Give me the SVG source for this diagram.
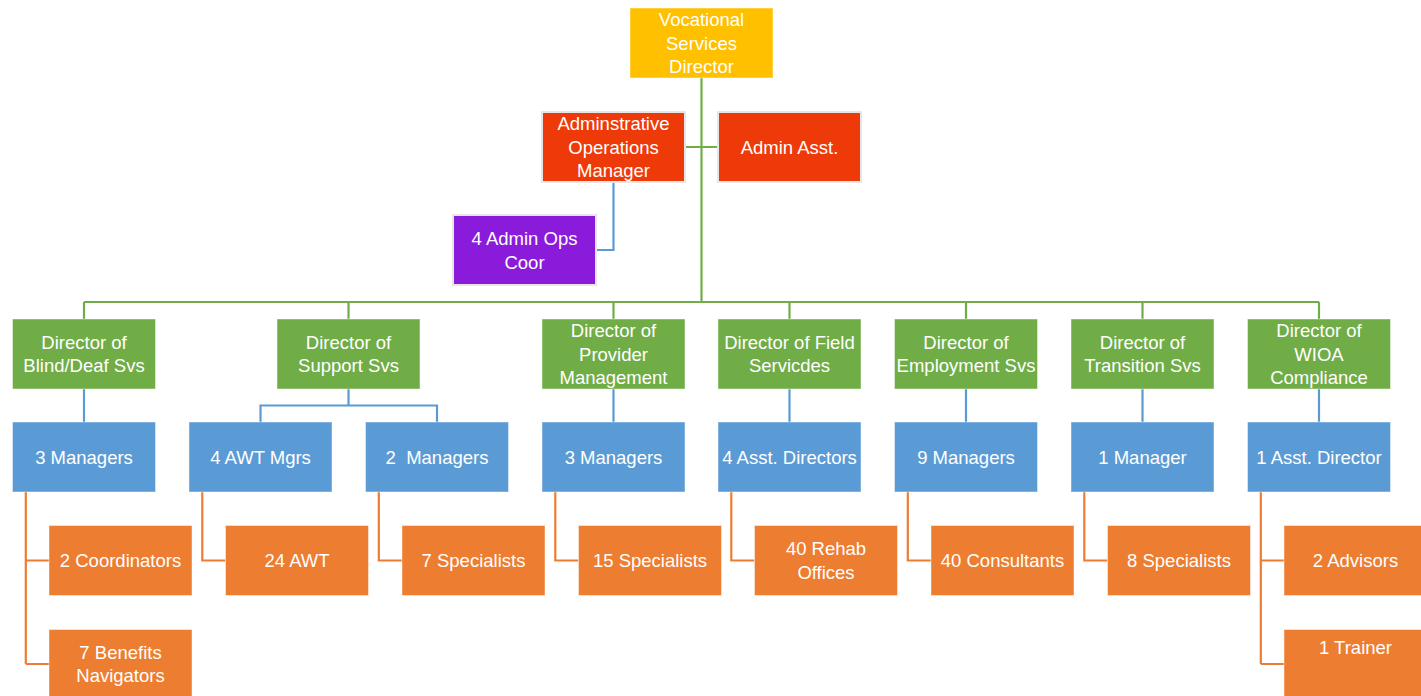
<svg xmlns="http://www.w3.org/2000/svg" width="1421" height="696" viewBox="0 0 1421 696">
<style>
  text { font-family: "Liberation Sans", Arial, sans-serif; font-size: 18.5px; fill: #ffffff; text-anchor: middle; }
  .box { stroke: #ffffff; stroke-opacity: 0.45; stroke-width: 1; }
  .gold { fill: #FFC000; }
  .red { fill: #EE3A08; stroke: #e6e6e6; stroke-opacity: 1; stroke-width: 2; }
  .purple { fill: #8B1BDB; stroke: #e6e6e6; stroke-opacity: 1; stroke-width: 2; }
  .green { fill: #70AD47; }
  .blue { fill: #5B9BD5; }
  .orange { fill: #ED7D31; }
  .cg { fill: none; stroke: #70AD47; stroke-width: 2.2; }
  .cb { fill: none; stroke: #5B9BD5; stroke-width: 2.2; }
  .co { fill: none; stroke: #ED7D31; stroke-width: 2.2; }
</style>
<rect width="1421" height="696" fill="#ffffff"/>

<g id="connectors">
  <path class="cg" d="M701.5 78 V302 M84 302 H1319 M84 302 V319 M348.5 302 V319 M613.5 302 V319 M789.5 302 V319 M966 302 V319 M1142.5 302 V319 M1319 302 V319 M686 147 H717"/>
  <path class="cb" d="M613.5 183 V250 H597"/>
  <path class="cb" d="M84 389 V422 M613.5 389 V422 M789.5 389 V422 M966 389 V422 M1142.5 389 V422 M1319 389 V422 M348.5 389 V405.5 M260.5 422 V405.5 H437 V422"/>
  <path class="co" d="M25.8 492 V664 M25.8 560.5 H49 M25.8 664 H49"/>
  <path class="co" d="M202.3 492 V560.5 H225.5"/>
  <path class="co" d="M378.8 492 V560.5 H402"/>
  <path class="co" d="M555.3 492 V560.5 H578.5"/>
  <path class="co" d="M731.3 492 V560.5 H754.5"/>
  <path class="co" d="M907.8 492 V560.5 H931"/>
  <path class="co" d="M1084.3 492 V560.5 H1107.5"/>
  <path class="co" d="M1260.8 492 V664 M1260.8 560.5 H1284 M1260.8 664 H1284"/>
</g>

<g id="vocational-services-director">
  <rect class="box gold" x="630" y="8" width="143" height="70"/>
  <text x="701.5" y="26">Vocational</text>
  <text x="701.5" y="49.5">Services</text>
  <text x="701.5" y="73">Director</text>
</g>
<g id="admin-ops-manager">
  <rect class="box red" x="542" y="112" width="143" height="70"/>
  <text x="613.5" y="130">Adminstrative</text>
  <text x="613.5" y="153.5">Operations</text>
  <text x="613.5" y="177">Manager</text>
</g>
<g id="admin-asst">
  <rect class="box red" x="718" y="112" width="143" height="70"/>
  <text x="789.5" y="153.5">Admin Asst.</text>
</g>
<g id="admin-ops-coor">
  <rect class="box purple" x="453" y="215" width="143" height="70"/>
  <text x="524.5" y="245">4 Admin Ops</text>
  <text x="524.5" y="268.5">Coor</text>
</g>

<g id="dir-blind-deaf">
  <rect class="box green" x="12.5" y="319" width="143" height="70"/>
  <text x="84" y="348.8">Director of</text>
  <text x="84" y="372.3">Blind/Deaf Svs</text>
</g>
<g id="dir-support">
  <rect class="box green" x="277" y="319" width="143" height="70"/>
  <text x="348.5" y="348.8">Director of</text>
  <text x="348.5" y="372.3">Support Svs</text>
</g>
<g id="dir-provider">
  <rect class="box green" x="542" y="319" width="143" height="70"/>
  <text x="613.5" y="337">Director of</text>
  <text x="613.5" y="360.5">Provider</text>
  <text x="613.5" y="384">Management</text>
</g>
<g id="dir-field">
  <rect class="box green" x="718" y="319" width="143" height="70"/>
  <text x="789.5" y="348.8">Director of Field</text>
  <text x="789.5" y="372.3">Servicdes</text>
</g>
<g id="dir-employment">
  <rect class="box green" x="894.5" y="319" width="143" height="70"/>
  <text x="966" y="348.8">Director of</text>
  <text x="966" y="372.3">Employment Svs</text>
</g>
<g id="dir-transition">
  <rect class="box green" x="1071" y="319" width="143" height="70"/>
  <text x="1142.5" y="348.8">Director of</text>
  <text x="1142.5" y="372.3">Transition Svs</text>
</g>
<g id="dir-wioa">
  <rect class="box green" x="1247.5" y="319" width="143" height="70"/>
  <text x="1319" y="337">Director of</text>
  <text x="1319" y="360.5">WIOA</text>
  <text x="1319" y="384">Compliance</text>
</g>

<g id="mgr-blind-deaf">
  <rect class="box blue" x="12.5" y="422" width="143" height="70"/>
  <text x="84" y="463.6">3 Managers</text>
</g>
<g id="mgr-awt">
  <rect class="box blue" x="189" y="422" width="143" height="70"/>
  <text x="260.5" y="463.6">4 AWT Mgrs</text>
</g>
<g id="mgr-support">
  <rect class="box blue" x="365.5" y="422" width="143" height="70"/>
  <text x="437" y="463.6" xml:space="preserve">2  Managers</text>
</g>
<g id="mgr-provider">
  <rect class="box blue" x="542" y="422" width="143" height="70"/>
  <text x="613.5" y="463.6">3 Managers</text>
</g>
<g id="asst-dir-field">
  <rect class="box blue" x="718" y="422" width="143" height="70"/>
  <text x="789.5" y="463.6">4 Asst. Directors</text>
</g>
<g id="mgr-employment">
  <rect class="box blue" x="894.5" y="422" width="143" height="70"/>
  <text x="966" y="463.6">9 Managers</text>
</g>
<g id="mgr-transition">
  <rect class="box blue" x="1071" y="422" width="143" height="70"/>
  <text x="1142.5" y="463.6">1 Manager</text>
</g>
<g id="asst-dir-wioa">
  <rect class="box blue" x="1247.5" y="422" width="143" height="70"/>
  <text x="1319" y="463.6">1 Asst. Director</text>
</g>

<g id="coordinators">
  <rect class="box orange" x="49" y="525.5" width="143" height="70"/>
  <text x="120.5" y="567.1">2 Coordinators</text>
</g>
<g id="benefits-navigators">
  <rect class="box orange" x="49" y="629.5" width="143" height="70"/>
  <text x="120.5" y="658.6">7 Benefits</text>
  <text x="120.5" y="682.1">Navigators</text>
</g>
<g id="awt">
  <rect class="box orange" x="225.5" y="525.5" width="143" height="70"/>
  <text x="297" y="567.1">24 AWT</text>
</g>
<g id="specialists-7">
  <rect class="box orange" x="402" y="525.5" width="143" height="70"/>
  <text x="473.5" y="567.1">7 Specialists</text>
</g>
<g id="specialists-15">
  <rect class="box orange" x="578.5" y="525.5" width="143" height="70"/>
  <text x="650" y="567.1">15 Specialists</text>
</g>
<g id="rehab-offices">
  <rect class="box orange" x="754.5" y="525.5" width="143" height="70"/>
  <text x="826" y="555.3">40 Rehab</text>
  <text x="826" y="578.8">Offices</text>
</g>
<g id="consultants">
  <rect class="box orange" x="931" y="525.5" width="143" height="70"/>
  <text x="1002.5" y="567.1">40 Consultants</text>
</g>
<g id="specialists-8">
  <rect class="box orange" x="1107.5" y="525.5" width="143" height="70"/>
  <text x="1179" y="567.1">8 Specialists</text>
</g>
<g id="advisors">
  <rect class="box orange" x="1284" y="525.5" width="143" height="70"/>
  <text x="1355.5" y="567.1">2 Advisors</text>
</g>
<g id="trainer">
  <rect class="box orange" x="1284" y="629.5" width="143" height="70"/>
  <text x="1355.5" y="653.9">1 Trainer</text>
</g>
</svg>
